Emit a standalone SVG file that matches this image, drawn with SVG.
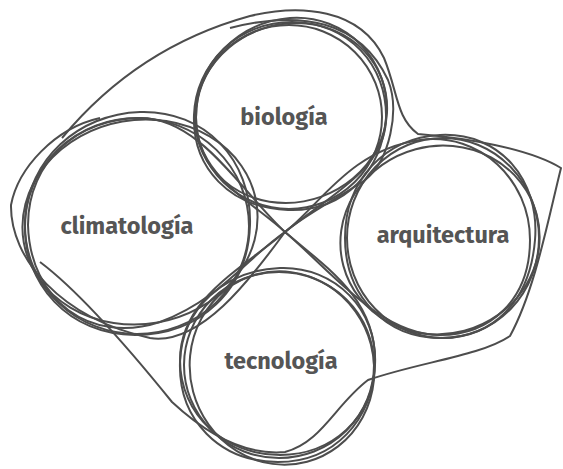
<svg xmlns="http://www.w3.org/2000/svg" width="563" height="469" viewBox="0 0 563 469">
<style>
.l{fill:none;stroke:#4d4d4d;stroke-width:2;stroke-linejoin:round}
.t{font-family:"Fira Sans","Open Sans","Noto Sans",sans-serif;font-weight:700;font-size:23.5px;fill:#555;text-anchor:middle}
</style>
<rect width="563" height="469" fill="#fff"/>
<g id="connectors">
<path class="l" d="M62,138 C110,80 170,38 250,16 C300,4 360,8 384,58 C398,92 396,118 418,134 C465,138 528,148 561,168 C548,220 535,290 510,336 C480,356 420,362 368,380 C335,405 322,442 285,452 C240,456 200,428 172,402 C130,350 80,292 40,262"/>
<path class="l" d="M100,118 C55,128 18,168 11,205 C10,258 60,318 150,338 C200,346 250,280 285,232"/>
<path class="l" d="M230,28 C300,10 360,20 388,80 C400,110 390,160 365,180 C335,200 305,215 285,232"/>
</g>
<g id="biologia">
<ellipse class="l" cx="289" cy="117" rx="93" ry="92"/>
<ellipse class="l" cx="291" cy="113" rx="97" ry="89" transform="rotate(-20 291 113)"/>
<path class="l" d="M290,18 C345,14 392,60 386,118 C382,170 345,212 288,210 C230,208 192,168 194,115 C196,65 238,22 290,18 Z"/>
<path class="l" d="M285,232 C250,200 196,175 196,118 C196,60 240,22 292,22 C348,22 388,65 386,120 C384,170 330,195 285,232 Z"/>
<text class="t" x="284" y="125">biología</text>
</g>
<g id="climatologia">
<ellipse class="l" cx="137" cy="226" rx="112" ry="108"/>
<path class="l" d="M140,112 C205,110 252,160 250,225 C248,290 200,335 135,335 C70,335 22,285 25,220 C28,160 78,114 140,112 Z"/>
<ellipse class="l" cx="140" cy="222" rx="118" ry="102" transform="rotate(-10 140 222)"/>
<path class="l" d="M285,232 C250,255 220,300 160,322 C90,345 30,300 28,225 C28,160 80,118 140,118 C200,118 240,190 285,232 Z"/>
<text class="t" x="127" y="234">climatología</text>
</g>
<g id="arquitectura">
<ellipse class="l" cx="443" cy="238" rx="96" ry="100"/>
<path class="l" d="M440,135 C500,132 540,180 535,240 C530,300 495,338 440,338 C385,338 345,295 345,238 C345,180 385,138 440,135 Z"/>
<ellipse class="l" cx="440" cy="240" rx="100" ry="94" transform="rotate(-15 440 240)"/>
<path class="l" d="M285,232 C320,205 350,150 420,140 C480,132 530,180 530,240 C530,300 490,335 440,335 C380,335 330,270 285,232 Z"/>
<text class="t" x="443" y="243">arquitectura</text>
</g>
<g id="tecnologia">
<ellipse class="l" cx="279" cy="365" rx="95" ry="93"/>
<path class="l" d="M280,268 C335,266 378,310 375,365 C372,420 335,462 278,462 C220,462 178,420 180,362 C182,308 225,270 280,268 Z"/>
<ellipse class="l" cx="282" cy="368" rx="92" ry="97" transform="rotate(-15 282 368)"/>
<path class="l" d="M285,232 C330,270 375,300 375,360 C375,420 330,455 280,455 C225,455 180,415 180,360 C180,300 240,270 285,232 Z"/>
<text class="t" x="281" y="369">tecnología</text>
</g>
</svg>
